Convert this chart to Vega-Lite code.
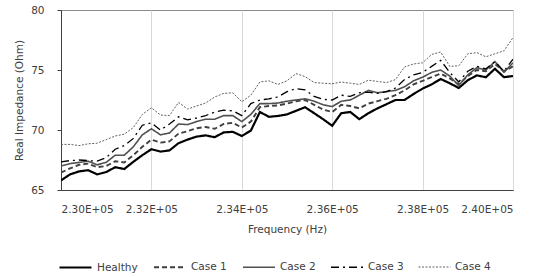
{
  "$schema": "https://vega.github.io/schema/vega-lite/v6.json",
  "width": 452,
  "height": 180,
  "autosize": {"type": "none"},
  "padding": {"left": 61, "top": 10, "right": 36, "bottom": 87},
  "data": {"values": [
    {"s":"Healthy","f":230000,"v":65.8},{"s":"Healthy","f":230200,"v":66.3},{"s":"Healthy","f":230400,"v":66.55},{"s":"Healthy","f":230600,"v":66.65},{"s":"Healthy","f":230800,"v":66.3},{"s":"Healthy","f":231000,"v":66.5},{"s":"Healthy","f":231200,"v":66.9},{"s":"Healthy","f":231400,"v":66.75},{"s":"Healthy","f":231600,"v":67.35},{"s":"Healthy","f":231800,"v":67.9},{"s":"Healthy","f":232000,"v":68.4},{"s":"Healthy","f":232200,"v":68.2},{"s":"Healthy","f":232400,"v":68.3},{"s":"Healthy","f":232600,"v":68.9},{"s":"Healthy","f":232800,"v":69.2},{"s":"Healthy","f":233000,"v":69.45},{"s":"Healthy","f":233200,"v":69.55},{"s":"Healthy","f":233400,"v":69.4},{"s":"Healthy","f":233600,"v":69.8},{"s":"Healthy","f":233800,"v":69.85},{"s":"Healthy","f":234000,"v":69.5},{"s":"Healthy","f":234200,"v":69.95},{"s":"Healthy","f":234400,"v":71.5},{"s":"Healthy","f":234600,"v":71.1},{"s":"Healthy","f":234800,"v":71.17},{"s":"Healthy","f":235000,"v":71.3},{"s":"Healthy","f":235200,"v":71.6},{"s":"Healthy","f":235400,"v":71.9},{"s":"Healthy","f":235600,"v":71.4},{"s":"Healthy","f":235800,"v":70.9},{"s":"Healthy","f":236000,"v":70.35},{"s":"Healthy","f":236200,"v":71.4},{"s":"Healthy","f":236400,"v":71.5},{"s":"Healthy","f":236600,"v":70.9},{"s":"Healthy","f":236800,"v":71.4},{"s":"Healthy","f":237000,"v":71.8},{"s":"Healthy","f":237200,"v":72.15},{"s":"Healthy","f":237400,"v":72.5},{"s":"Healthy","f":237600,"v":72.5},{"s":"Healthy","f":237800,"v":73.0},{"s":"Healthy","f":238000,"v":73.45},{"s":"Healthy","f":238200,"v":73.8},{"s":"Healthy","f":238400,"v":74.25},{"s":"Healthy","f":238600,"v":73.9},{"s":"Healthy","f":238800,"v":73.5},{"s":"Healthy","f":239000,"v":74.15},{"s":"Healthy","f":239200,"v":74.55},{"s":"Healthy","f":239400,"v":74.4},{"s":"Healthy","f":239600,"v":75.1},{"s":"Healthy","f":239800,"v":74.4},{"s":"Healthy","f":240000,"v":74.5},
    {"s":"Case 1","f":230000,"v":66.45},{"s":"Case 1","f":230200,"v":66.8},{"s":"Case 1","f":230400,"v":67.1},{"s":"Case 1","f":230600,"v":67.2},{"s":"Case 1","f":230800,"v":66.9},{"s":"Case 1","f":231000,"v":67.0},{"s":"Case 1","f":231200,"v":67.4},{"s":"Case 1","f":231400,"v":67.3},{"s":"Case 1","f":231600,"v":67.9},{"s":"Case 1","f":231800,"v":68.6},{"s":"Case 1","f":232000,"v":69.2},{"s":"Case 1","f":232200,"v":68.95},{"s":"Case 1","f":232400,"v":69.05},{"s":"Case 1","f":232600,"v":69.7},{"s":"Case 1","f":232800,"v":69.9},{"s":"Case 1","f":233000,"v":70.15},{"s":"Case 1","f":233200,"v":70.25},{"s":"Case 1","f":233400,"v":70.1},{"s":"Case 1","f":233600,"v":70.5},{"s":"Case 1","f":233800,"v":70.6},{"s":"Case 1","f":234000,"v":70.2},{"s":"Case 1","f":234200,"v":70.7},{"s":"Case 1","f":234400,"v":71.9},{"s":"Case 1","f":234600,"v":72.0},{"s":"Case 1","f":234800,"v":72.05},{"s":"Case 1","f":235000,"v":72.2},{"s":"Case 1","f":235200,"v":72.4},{"s":"Case 1","f":235400,"v":72.5},{"s":"Case 1","f":235600,"v":72.1},{"s":"Case 1","f":235800,"v":71.7},{"s":"Case 1","f":236000,"v":71.5},{"s":"Case 1","f":236200,"v":72.1},{"s":"Case 1","f":236400,"v":72.0},{"s":"Case 1","f":236600,"v":71.8},{"s":"Case 1","f":236800,"v":72.2},{"s":"Case 1","f":237000,"v":72.4},{"s":"Case 1","f":237200,"v":72.6},{"s":"Case 1","f":237400,"v":72.9},{"s":"Case 1","f":237600,"v":73.3},{"s":"Case 1","f":237800,"v":73.8},{"s":"Case 1","f":238000,"v":74.1},{"s":"Case 1","f":238200,"v":74.4},{"s":"Case 1","f":238400,"v":74.7},{"s":"Case 1","f":238600,"v":74.3},{"s":"Case 1","f":238800,"v":73.8},{"s":"Case 1","f":239000,"v":74.5},{"s":"Case 1","f":239200,"v":75.0},{"s":"Case 1","f":239400,"v":74.9},{"s":"Case 1","f":239600,"v":75.5},{"s":"Case 1","f":239800,"v":74.9},{"s":"Case 1","f":240000,"v":75.3},
    {"s":"Case 2","f":230000,"v":67.0},{"s":"Case 2","f":230200,"v":67.2},{"s":"Case 2","f":230400,"v":67.3},{"s":"Case 2","f":230600,"v":67.4},{"s":"Case 2","f":230800,"v":67.1},{"s":"Case 2","f":231000,"v":67.3},{"s":"Case 2","f":231200,"v":67.9},{"s":"Case 2","f":231400,"v":67.9},{"s":"Case 2","f":231600,"v":68.6},{"s":"Case 2","f":231800,"v":69.6},{"s":"Case 2","f":232000,"v":70.1},{"s":"Case 2","f":232200,"v":69.6},{"s":"Case 2","f":232400,"v":69.75},{"s":"Case 2","f":232600,"v":70.5},{"s":"Case 2","f":232800,"v":70.45},{"s":"Case 2","f":233000,"v":70.7},{"s":"Case 2","f":233200,"v":70.9},{"s":"Case 2","f":233400,"v":70.9},{"s":"Case 2","f":233600,"v":71.2},{"s":"Case 2","f":233800,"v":71.2},{"s":"Case 2","f":234000,"v":70.7},{"s":"Case 2","f":234200,"v":71.3},{"s":"Case 2","f":234400,"v":72.2},{"s":"Case 2","f":234600,"v":72.2},{"s":"Case 2","f":234800,"v":72.25},{"s":"Case 2","f":235000,"v":72.4},{"s":"Case 2","f":235200,"v":72.5},{"s":"Case 2","f":235400,"v":72.6},{"s":"Case 2","f":235600,"v":72.4},{"s":"Case 2","f":235800,"v":72.1},{"s":"Case 2","f":236000,"v":71.95},{"s":"Case 2","f":236200,"v":72.4},{"s":"Case 2","f":236400,"v":72.5},{"s":"Case 2","f":236600,"v":72.9},{"s":"Case 2","f":236800,"v":73.3},{"s":"Case 2","f":237000,"v":73.1},{"s":"Case 2","f":237200,"v":73.2},{"s":"Case 2","f":237400,"v":73.3},{"s":"Case 2","f":237600,"v":73.6},{"s":"Case 2","f":237800,"v":74.1},{"s":"Case 2","f":238000,"v":74.4},{"s":"Case 2","f":238200,"v":74.8},{"s":"Case 2","f":238400,"v":75.0},{"s":"Case 2","f":238600,"v":74.5},{"s":"Case 2","f":238800,"v":73.7},{"s":"Case 2","f":239000,"v":74.6},{"s":"Case 2","f":239200,"v":75.2},{"s":"Case 2","f":239400,"v":75.0},{"s":"Case 2","f":239600,"v":75.7},{"s":"Case 2","f":239800,"v":74.8},{"s":"Case 2","f":240000,"v":75.6},
    {"s":"Case 3","f":230000,"v":67.35},{"s":"Case 3","f":230200,"v":67.45},{"s":"Case 3","f":230400,"v":67.5},{"s":"Case 3","f":230600,"v":67.45},{"s":"Case 3","f":230800,"v":67.4},{"s":"Case 3","f":231000,"v":67.7},{"s":"Case 3","f":231200,"v":68.4},{"s":"Case 3","f":231400,"v":68.7},{"s":"Case 3","f":231600,"v":69.3},{"s":"Case 3","f":231800,"v":70.4},{"s":"Case 3","f":232000,"v":70.6},{"s":"Case 3","f":232200,"v":70.0},{"s":"Case 3","f":232400,"v":70.5},{"s":"Case 3","f":232600,"v":71.1},{"s":"Case 3","f":232800,"v":70.85},{"s":"Case 3","f":233000,"v":71.0},{"s":"Case 3","f":233200,"v":71.2},{"s":"Case 3","f":233400,"v":71.5},{"s":"Case 3","f":233600,"v":71.65},{"s":"Case 3","f":233800,"v":71.6},{"s":"Case 3","f":234000,"v":71.2},{"s":"Case 3","f":234200,"v":72.2},{"s":"Case 3","f":234400,"v":72.5},{"s":"Case 3","f":234600,"v":72.6},{"s":"Case 3","f":234800,"v":72.75},{"s":"Case 3","f":235000,"v":73.2},{"s":"Case 3","f":235200,"v":73.45},{"s":"Case 3","f":235400,"v":73.35},{"s":"Case 3","f":235600,"v":72.8},{"s":"Case 3","f":235800,"v":72.55},{"s":"Case 3","f":236000,"v":72.5},{"s":"Case 3","f":236200,"v":72.9},{"s":"Case 3","f":236400,"v":72.8},{"s":"Case 3","f":236600,"v":73.1},{"s":"Case 3","f":236800,"v":73.15},{"s":"Case 3","f":237000,"v":73.05},{"s":"Case 3","f":237200,"v":73.2},{"s":"Case 3","f":237400,"v":73.5},{"s":"Case 3","f":237600,"v":74.2},{"s":"Case 3","f":237800,"v":74.6},{"s":"Case 3","f":238000,"v":74.8},{"s":"Case 3","f":238200,"v":75.3},{"s":"Case 3","f":238400,"v":75.8},{"s":"Case 3","f":238600,"v":74.8},{"s":"Case 3","f":238800,"v":74.0},{"s":"Case 3","f":239000,"v":74.9},{"s":"Case 3","f":239200,"v":75.3},{"s":"Case 3","f":239400,"v":75.1},{"s":"Case 3","f":239600,"v":75.7},{"s":"Case 3","f":239800,"v":74.9},{"s":"Case 3","f":240000,"v":75.9},
    {"s":"Case 4","f":230000,"v":68.8},{"s":"Case 4","f":230200,"v":68.8},{"s":"Case 4","f":230400,"v":68.7},{"s":"Case 4","f":230600,"v":68.85},{"s":"Case 4","f":230800,"v":68.9},{"s":"Case 4","f":231000,"v":69.2},{"s":"Case 4","f":231200,"v":69.5},{"s":"Case 4","f":231400,"v":69.65},{"s":"Case 4","f":231600,"v":70.2},{"s":"Case 4","f":231800,"v":71.3},{"s":"Case 4","f":232000,"v":71.85},{"s":"Case 4","f":232200,"v":71.25},{"s":"Case 4","f":232400,"v":71.2},{"s":"Case 4","f":232600,"v":72.3},{"s":"Case 4","f":232800,"v":71.75},{"s":"Case 4","f":233000,"v":72.0},{"s":"Case 4","f":233200,"v":72.25},{"s":"Case 4","f":233400,"v":72.75},{"s":"Case 4","f":233600,"v":73.05},{"s":"Case 4","f":233800,"v":73.1},{"s":"Case 4","f":234000,"v":72.35},{"s":"Case 4","f":234200,"v":72.9},{"s":"Case 4","f":234400,"v":74.0},{"s":"Case 4","f":234600,"v":74.1},{"s":"Case 4","f":234800,"v":73.8},{"s":"Case 4","f":235000,"v":74.1},{"s":"Case 4","f":235200,"v":74.7},{"s":"Case 4","f":235400,"v":74.45},{"s":"Case 4","f":235600,"v":73.95},{"s":"Case 4","f":235800,"v":73.9},{"s":"Case 4","f":236000,"v":73.85},{"s":"Case 4","f":236200,"v":74.0},{"s":"Case 4","f":236400,"v":73.9},{"s":"Case 4","f":236600,"v":73.8},{"s":"Case 4","f":236800,"v":74.15},{"s":"Case 4","f":237000,"v":74.05},{"s":"Case 4","f":237200,"v":73.95},{"s":"Case 4","f":237400,"v":74.2},{"s":"Case 4","f":237600,"v":75.25},{"s":"Case 4","f":237800,"v":75.5},{"s":"Case 4","f":238000,"v":75.6},{"s":"Case 4","f":238200,"v":76.3},{"s":"Case 4","f":238400,"v":76.5},{"s":"Case 4","f":238600,"v":75.3},{"s":"Case 4","f":238800,"v":75.35},{"s":"Case 4","f":239000,"v":76.35},{"s":"Case 4","f":239200,"v":76.45},{"s":"Case 4","f":239400,"v":76.1},{"s":"Case 4","f":239600,"v":76.35},{"s":"Case 4","f":239800,"v":76.6},{"s":"Case 4","f":240000,"v":77.7}
  ]},
  "mark": {"type": "line", "clip": true},
  "encoding": {
    "x": {
      "field": "f", "type": "quantitative",
      "scale": {"domain": [230000, 240000], "nice": false, "zero": false},
      "axis": {
        "values": [230000, 232000, 234000, 236000, 238000, 240000],
        "labelExpr": "replace(format(datum.value, '.2e'), 'e+', 'E+0')",
        "title": "Frequency (Hz)",
        "grid": true, "gridColor": "#d9d9d9",
        "ticks": false, "labelPadding": 14, "titlePadding": 10
      }
    },
    "y": {
      "field": "v", "type": "quantitative",
      "scale": {"domain": [65, 80], "nice": false, "zero": false},
      "axis": {
        "values": [65, 70, 75, 80],
        "title": "Real Impedance (Ohm)",
        "grid": false, "tickSize": 4, "labelPadding": 13, "titlePadding": 6
      }
    },
    "color": {
      "field": "s", "type": "nominal",
      "scale": {"domain": ["Healthy", "Case 1", "Case 2", "Case 3", "Case 4"], "range": ["#000000", "#404040", "#505050", "#000000", "#606060"]},
      "legend": {"title": null}
    },
    "strokeDash": {
      "field": "s", "type": "nominal",
      "scale": {"domain": ["Healthy", "Case 1", "Case 2", "Case 3", "Case 4"], "range": [[1, 0], [5, 3], [1, 0], [8, 4, 2, 4], [2, 1.5]]},
      "legend": {"title": null}
    },
    "strokeWidth": {
      "field": "s", "type": "nominal",
      "scale": {"domain": ["Healthy", "Case 1", "Case 2", "Case 3", "Case 4"], "range": [2.2, 1, 1, 2, 1]},
      "legend": {"title": null}
    }
  },
  "config": {
    "font": "DejaVu Sans",
    "view": {"stroke": "#8c8c8c"},
    "axis": {
      "domainColor": "#404040",
      "tickColor": "#404040",
      "labelFontSize": 10.5,
      "labelColor": "#404040",
      "titleFontSize": 10.5,
      "titleFontWeight": "normal",
      "titleColor": "#404040"
    },
    "legend": {
      "orient": "none",
      "legendX": -3,
      "legendY": 240,
      "direction": "horizontal",
      "symbolType": "stroke",
      "symbolSize": 1024,
      "labelFontSize": 10.5,
      "labelColor": "#404040",
      "labelOffset": 4,
      "columnPadding": 12
    }
  }
}
